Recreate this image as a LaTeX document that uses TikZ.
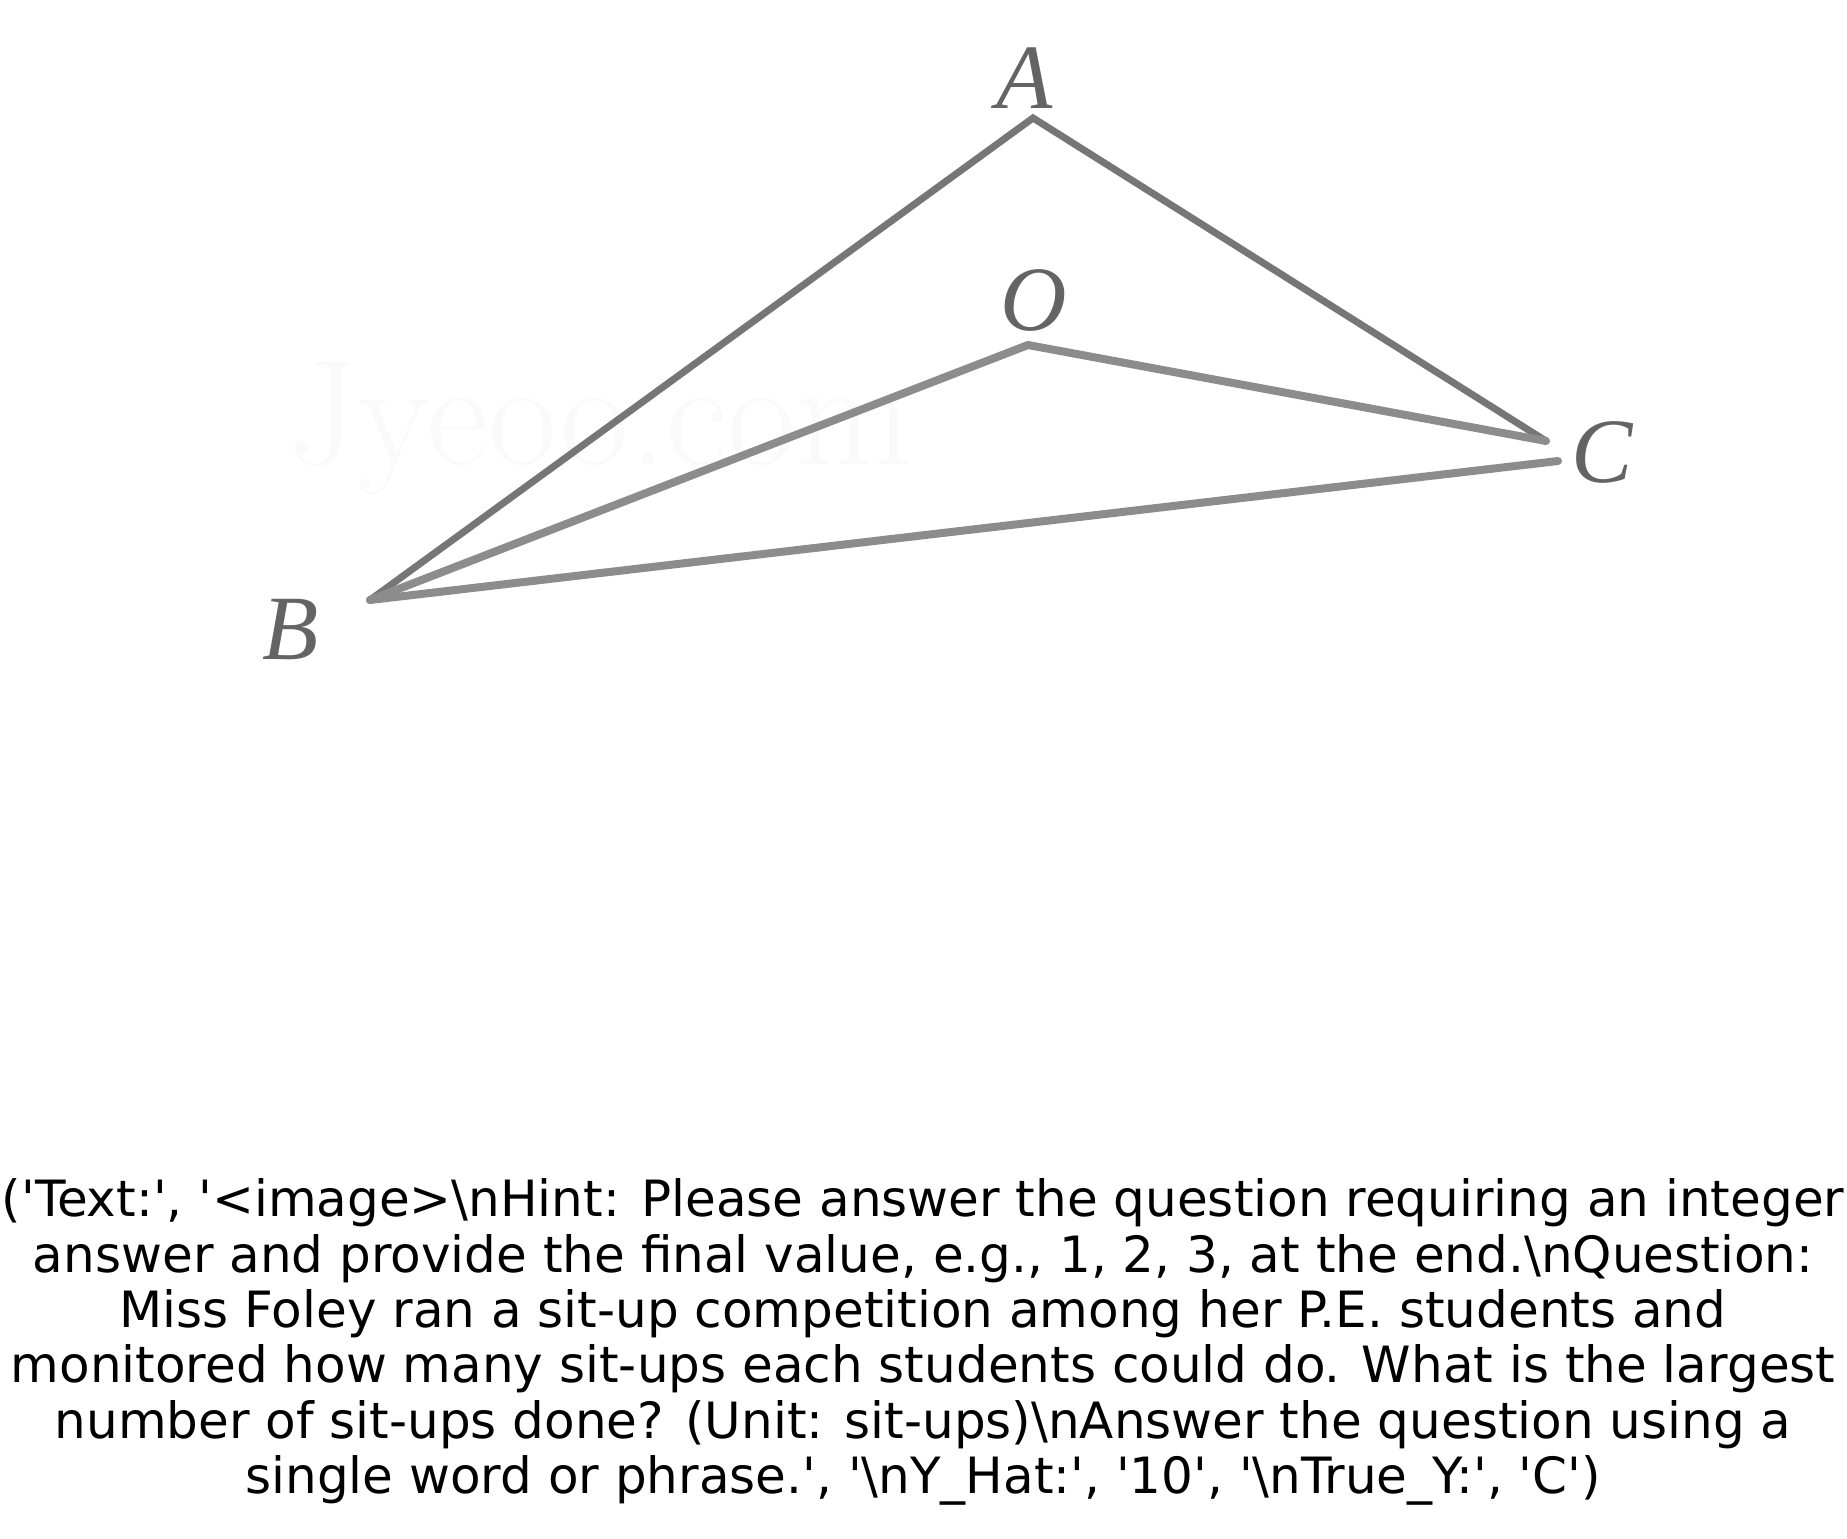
\documentclass[tikz,border=0pt]{standalone}
\usepackage{fontspec}
\newfontfamily\dv{DejaVu Sans}
\newfontfamily\tms{Liberation Serif}
\begin{document}
\begin{tikzpicture}[x=1pt,y=-1pt,
  edge/.style={draw={rgb,255:red,118;green,118;blue,118},line width=7pt,line cap=round},
  soft/.style={draw={rgb,255:red,140;green,140;blue,140},line width=8pt,line cap=round},
  lbl/.style={font=\tms\itshape\fontsize{92}{92}\selectfont,text={rgb,255:red,100;green,100;blue,100},inner sep=0pt},
  caption/.style={font=\dv\fontsize{50}{55.4}\selectfont,align=center,inner sep=0pt}]
\useasboundingbox (0,0) rectangle (1847,1539);
\node[font=\fontsize{150}{150}\selectfont,text={rgb,255:red,250;green,250;blue,250}] (wm) at (600,428) {Jyeoo.com};
\coordinate (A) at (1033,118);
\coordinate (O) at (1028,345);
\coordinate (C) at (1546,441);
\coordinate (Cb) at (1558,461);
\coordinate (B) at (370,600);
\draw[edge] (B) -- (A) -- (C);
\draw[soft] (B) -- (O) -- (C);
\draw[soft] (B) -- (Cb);
\node[lbl] (lA) at (1025,78) {A};
\node[lbl] (lO) at (1034,300) {O};
\node[lbl] (lC) at (1602,452) {C};
\node[lbl] (lB) at (291,630) {B};
\node[caption] (cap) at (923,1342) {('Text:', '<image>\textbackslash nHint: Please answer the question requiring an integer\\
answer and provide the final value, e.g., 1, 2, 3, at the end.\textbackslash nQuestion:\\
Miss Foley ran a sit-up competition among her P.E. students and\\
monitored how many sit-ups each students could do. What is the largest\\
number of sit-ups done? (Unit: sit-ups)\textbackslash nAnswer the question using a\\
single word or phrase.', '\textbackslash nY\_Hat:', '10', '\textbackslash nTrue\_Y:', 'C')};
\end{tikzpicture}
\end{document}
